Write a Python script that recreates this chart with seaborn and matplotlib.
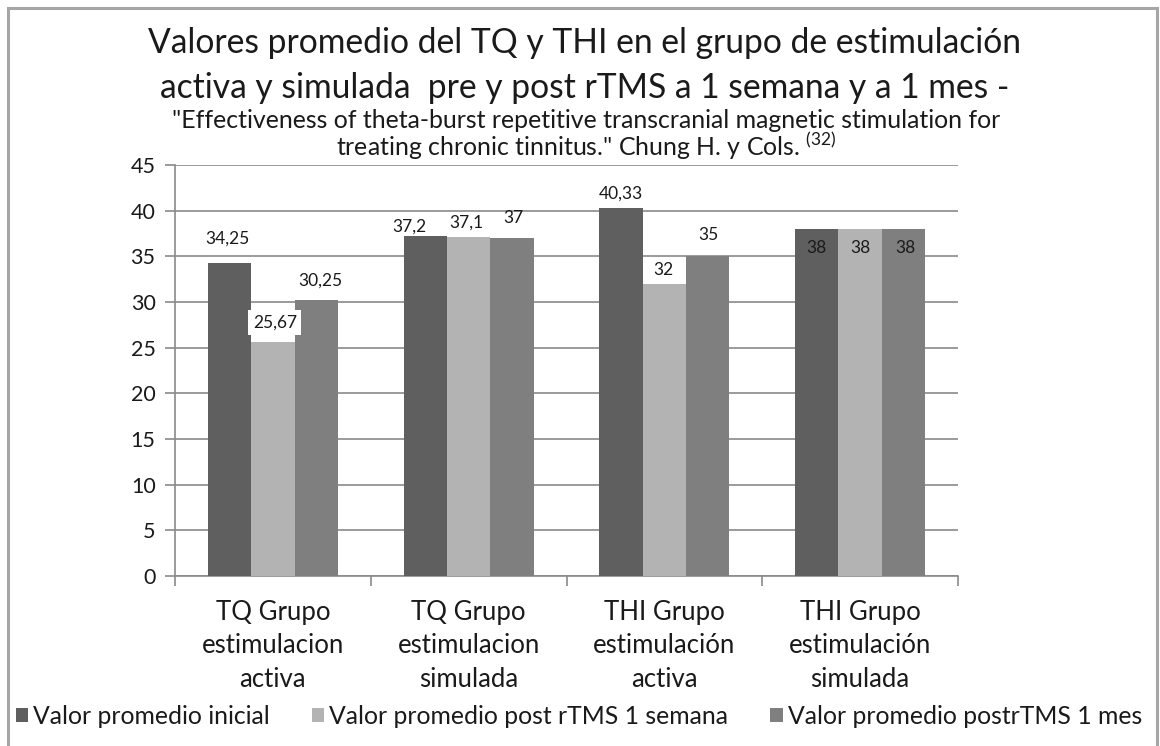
import matplotlib
matplotlib.use("Agg")
import matplotlib.pyplot as plt
from matplotlib.patches import Rectangle, Patch
import seaborn as sns
import pandas as pd

categories = [
    "TQ Grupo\nestimulacion\nactiva",
    "TQ Grupo\nestimulacion\nsimulada",
    "THI Grupo\nestimulación\nactiva",
    "THI Grupo\nestimulación\nsimulada",
]
series_names = [
    "Valor promedio inicial",
    "Valor promedio post rTMS 1 semana",
    "Valor promedio postrTMS 1 mes",
]
inicial = [34.25, 37.2, 40.33, 38]
semana = [25.67, 37.1, 32, 38]
mes = [30.25, 37, 35, 38]
label_text = [
    ["34,25", "37,2", "40,33", "38"],
    ["25,67", "37,1", "32", "38"],
    ["30,25", "37", "35", "38"],
]
yticks = [0, 5, 10, 15, 20, 25, 30, 35, 40, 45]

colors = ["#5f5f5f", "#b3b3b3", "#7f7f7f"]
# label offsets in pixels (dx, dy)
offsets = [
    [(-2, 25), (-16, 10), (0, 14), (0, -19)],
    [(2, 19), (-2, 15), (-1, 14), (0, -19)],
    [(4, 19), (1, 20), (1, 21), (2, -19)],
]
white_box = [[False] * 4, [True, False, True, False], [False] * 4]

rows = []
for name, vals in zip(series_names, [inicial, semana, mes]):
    for c, v in zip(categories, vals):
        rows.append({"grupo": c, "serie": name, "valor": v})
df = pd.DataFrame(rows)

sns.set_theme(style="white")
FONT = ["Lato", "DejaVu Sans"]
plt.rcParams["font.family"] = FONT
TXT = "#1a1a1a"

fig = plt.figure(figsize=(11.6, 7.46), dpi=100)
ax = fig.add_axes([175 / 1160, 1 - 576 / 746, (958 - 175) / 1160, (576 - 165) / 746])

sns.barplot(data=df, x="grupo", y="valor", hue="serie", palette=colors,
            width=0.665, saturation=1, ax=ax, legend=False, zorder=3,
            linewidth=0, edgecolor="none", gap=0)

ax.set_ylim(0, 45)
ax.set_xlim(-0.5, 3.5)
ax.set_yticks(yticks)
ax.set_yticklabels([str(t) for t in yticks], fontsize=15.5, color=TXT)
ax.yaxis.grid(True, color="#8a8a8a", linewidth=1.2, zorder=0)
ax.set_axisbelow(True)
ax.set_xlabel("")
ax.set_ylabel("")
ax.tick_params(axis="y", length=7, width=1.2, color="#8a8a8a", left=True, pad=7)
ax.set_xticks(range(4))
ax.set_xticklabels(categories, fontsize=18.5, color=TXT, linespacing=1.43)
ax.tick_params(axis="x", which="major", length=0, pad=17)
ax.set_xticks([-0.5, 0.5, 1.5, 2.5, 3.5], minor=True)
ax.tick_params(axis="x", which="minor", length=7, width=1.2, color="#8a8a8a", bottom=True)
for s in ["top", "right"]:
    ax.spines[s].set_visible(False)
for s in ["left", "bottom"]:
    ax.spines[s].set_color("#8a8a8a")
    ax.spines[s].set_linewidth(1.2)

for i, cont in enumerate(ax.containers):
    for j, bar in enumerate(cont):
        x = bar.get_x() + bar.get_width() / 2
        h = bar.get_height()
        dx, dy = offsets[i][j]
        kw = {}
        if white_box[i][j]:
            kw["bbox"] = dict(boxstyle="square,pad=0.25", fc="white", ec="none")
        ax.annotate(label_text[i][j], xy=(x, h), xytext=(dx, dy),
                    textcoords="offset pixels", ha="center", va="center",
                    fontsize=12.5, color=TXT, zorder=5, **kw)

# titles
fig.text(585 / 1160, 1 - 43 / 746,
         "Valores promedio del TQ y THI en el grupo de estimulación",
         ha="center", va="center", fontsize=24.2, color=TXT)
fig.text(585 / 1160, 1 - 88 / 746,
         "activa y simulada  pre y post rTMS a 1 semana y a 1 mes -",
         ha="center", va="center", fontsize=24.2, color=TXT)
fig.text(586 / 1160, 1 - 121 / 746,
         "\"Effectiveness of theta-burst repetitive transcranial magnetic stimulation for",
         ha="center", va="center", fontsize=17.9, color=TXT)
fig.text(586 / 1160, 1 - 146 / 746,
         "treating chronic tinnitus.\" Chung H. y Cols. $^{\\mathregular{(32)}}$",
         ha="center", va="center", fontsize=17.9, color=TXT)

handles = [Patch(facecolor=c, edgecolor="none") for c in colors]
fig.legend(handles, series_names, loc="center", bbox_to_anchor=(579 / 1160, 1 - 716 / 746),
           ncol=3, frameon=False, fontsize=17.8, handlelength=0.5, handleheight=0.5,
           handletextpad=0.2, columnspacing=1.7, labelcolor=TXT,
           borderaxespad=0, borderpad=0)

fig.patches.append(Rectangle((8 / 1160, -0.05), (1157 - 8) / 1160, 1.05 - 8 / 746,
                             transform=fig.transFigure, fill=False,
                             edgecolor="#a6a6a6", linewidth=2.2, zorder=10))

fig.savefig("out.png", dpi=100, facecolor="white")
